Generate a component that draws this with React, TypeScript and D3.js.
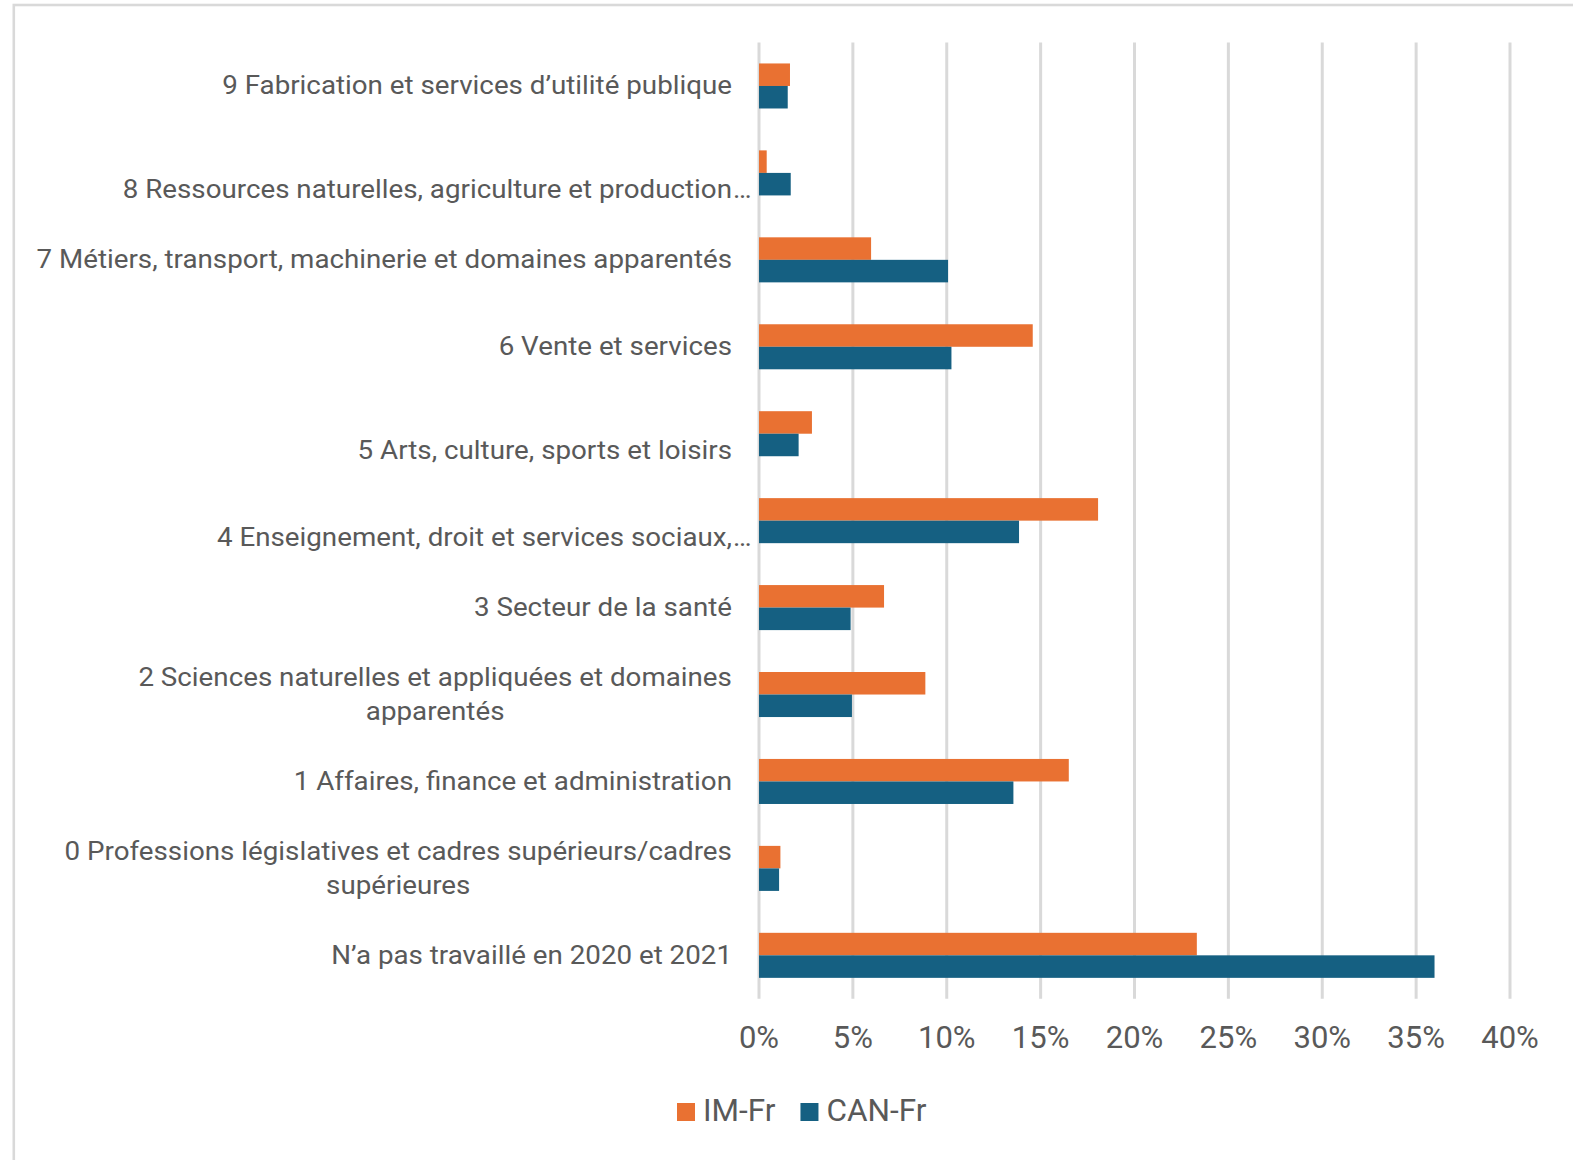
import React from "react";
import * as d3 from "d3";

const categoryLabels: string[][] = [
  ["9 Fabrication et services d’utilité publique"],
  ["", "8 Ressources naturelles, agriculture et production…"],
  ["7 Métiers, transport, machinerie et domaines apparentés"],
  ["6 Vente et services"],
  ["", "5 Arts, culture, sports et loisirs"],
  ["", "4 Enseignement, droit et services sociaux,…"],
  ["3 Secteur de la santé"],
  ["2 Sciences naturelles et appliquées et domaines", "apparentés"],
  ["1 Affaires, finance et administration"],
  ["0 Professions législatives et cadres supérieurs/cadres", "supérieures"],
  ["N’a pas travaillé en 2020 et 2021"],
];

const seriesNames = ["IM-Fr", "CAN-Fr"];
const imFr = [1.65, 0.41, 5.97, 14.58, 2.82, 18.06, 6.66, 8.86, 16.5, 1.14, 23.32];
const canFr = [1.53, 1.69, 10.07, 10.25, 2.11, 13.85, 4.88, 4.95, 13.55, 1.07, 35.98];
const xTicks = [0, 5, 10, 15, 20, 25, 30, 35, 40];

const COLORS = ["#E97132", "#156082"];
const TEXT = "#595959";
const GRID = "#d9d9d9";
const FONT = "Roboto, 'Noto Sans', sans-serif";

const W = 1573;
const H = 1160;

let ctx: CanvasRenderingContext2D | null = null;
function measure(text: string, size: number): number {
  if (!ctx) {
    const c = document.createElement("canvas");
    ctx = c.getContext("2d");
  }
  if (!ctx) return text.length * size * 0.5;
  ctx.font = `${size}px Roboto`;
  return ctx.measureText(text).width;
}

export default function App() {
  const x = d3.scaleLinear().domain([0, 40]).range([759, 1510]);
  const idx = categoryLabels.map((_, i) => i);
  const y = d3
    .scaleBand<number>()
    .domain(idx)
    .range([42.5, 998.8])
    .paddingInner(0.482)
    .paddingOuter(0.241);
  const ySub = d3.scaleBand<string>().domain(seriesNames).range([0, y.bandwidth()]);
  const series = [imFr, canFr];

  const labelSize = 26.5;
  const labelRight = 732;
  const lineH = 34;
  const k = 510 / measure("9 Fabrication et services d’utilité publique", labelSize);

  const tickSize = 31;
  const legendSize = 31.5;

  const legendItems: { x: number; name: string; color: string }[] = [];
  let lx = 677;
  seriesNames.forEach((n, i) => {
    legendItems.push({ x: lx, name: n, color: COLORS[i] });
    lx += 18 + 8 + measure(n, legendSize) + 25;
  });

  return (
    <div style={{ position: "absolute", left: 0, top: 0, width: W, height: H, background: "#fff" }}>
      <svg width={W} height={H} style={{ display: "block", fontFamily: FONT }}>
        <rect x={0} y={0} width={W} height={H} fill="#fff" />
        <rect x={13.8} y={5} width={W} height={H} fill="none" stroke={GRID} strokeWidth={2.6} />

        {xTicks.map((t) => (
          <line key={"g" + t} x1={x(t)} x2={x(t)} y1={42.5} y2={998.8} stroke={GRID} strokeWidth={3} />
        ))}

        {series.map((vals, si) =>
          vals.map((v, i) => (
            <rect
              key={`b${si}-${i}`}
              x={x(0)}
              y={(y(i) as number) + (ySub(seriesNames[si]) as number)}
              width={x(v) - x(0)}
              height={ySub.bandwidth()}
              fill={COLORS[si]}
            />
          ))
        )}

        {categoryLabels.map((lines, i) => {
          const cy = (y(i) as number) + y.bandwidth() / 2 - 0.8;
          const n = lines.length;
          const widths = lines.map((l) => measure(l.endsWith("…") ? l.slice(0, -1) : l, labelSize));
          const maxW = Math.max(...widths);
          const visible = lines.filter((s) => s).length;
          const centered = visible > 1;
          return (
            <g key={"l" + i} transform={`translate(${labelRight},0) scale(${k},1)`}>
              {lines.map((l, li) => {
                if (!l) return null;
                const ly = cy + (li - (n - 1) / 2) * lineH;
                const ell = l.endsWith("…");
                const body = ell ? l.slice(0, -1) : l;
                return (
                  <g key={li}>
                    <text
                      x={centered ? -maxW / 2 : 0}
                      y={ly}
                      dy="0.35em"
                      textAnchor={centered ? "middle" : "end"}
                      fontSize={labelSize}
                      fill={TEXT}
                    >
                      {body}
                    </text>
                    {ell && (
                      <text x={1} y={ly} dy="0.35em" textAnchor="start" fontSize={labelSize} fill={TEXT} letterSpacing={3}>
                        …
                      </text>
                    )}
                  </g>
                );
              })}
            </g>
          );
        })}

        {xTicks.map((t) => (
          <text key={"t" + t} x={x(t)} y={1037} dy="0.35em" textAnchor="middle" fontSize={tickSize} fill={TEXT}>
            {`${t}%`}
          </text>
        ))}

        {legendItems.map((it) => (
          <g key={it.name}>
            <rect x={it.x} y={1103} width={18} height={18} fill={it.color} />
            <text x={it.x + 26} y={1121} fontSize={legendSize} fill={TEXT}>
              {it.name}
            </text>
          </g>
        ))}
      </svg>
    </div>
  );
}
